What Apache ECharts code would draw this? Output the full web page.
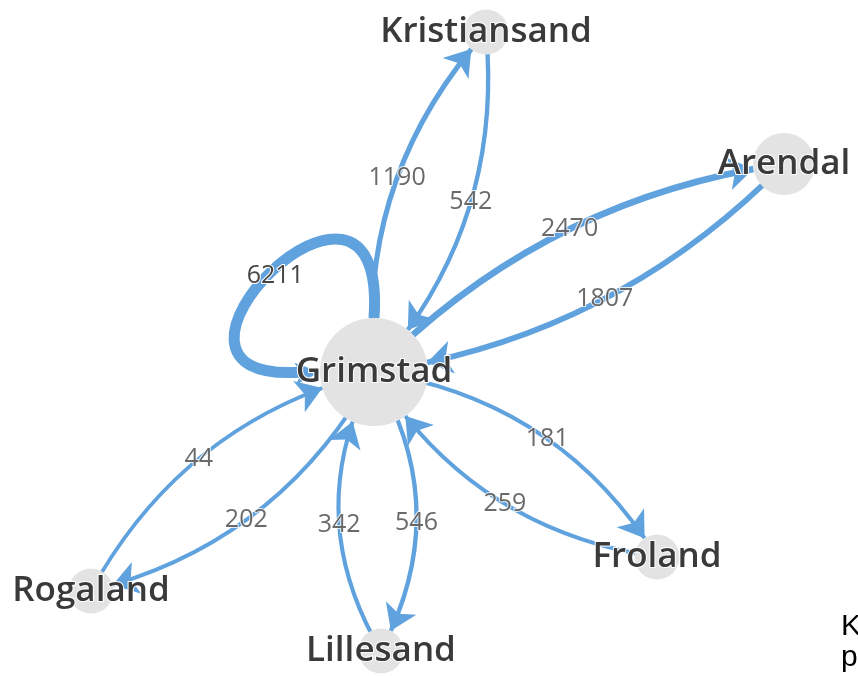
<!DOCTYPE html>
<html>
<head>
<meta charset="utf-8">
<script src="https://cdn.jsdelivr.net/npm/echarts@6/dist/echarts.min.js"></script>
<style>
  html, body { margin: 0; padding: 0; background: #fff; }
  #chart { width: 858px; height: 676px; }
</style>
</head>
<body>
<div id="chart"></div>
<script>
// nodes
var nodeNames = ['Grimstad', 'Kristiansand', 'Arendal', 'Froland', 'Lillesand', 'Rogaland'];
var nodeX = [374, 486, 784, 657, 381, 91];
var nodeY = [372, 32, 164, 557, 651, 591];
var nodeSize = [108, 45, 62, 45, 45, 45];

// links
var linkSource = ['Grimstad', 'Kristiansand', 'Grimstad', 'Arendal', 'Grimstad', 'Grimstad', 'Froland', 'Grimstad', 'Lillesand', 'Rogaland', 'Grimstad'];
var linkTarget = ['Kristiansand', 'Grimstad', 'Arendal', 'Grimstad', 'Grimstad', 'Froland', 'Grimstad', 'Lillesand', 'Grimstad', 'Grimstad', 'Rogaland'];
var linkValue = [1190, 542, 2470, 1807, 6211, 181, 259, 546, 342, 44, 202];

var BOW = 39;           // how far a curved edge bows out at its middle (px)
var EDGE_COLOR = '#5fa2dd';

function edgeWidth(v) { return 3.7 + v / 850; }

var nodes = [];
for (var i = 0; i < nodeNames.length; i++) {
  nodes.push({
    name: nodeNames[i],
    value: [nodeX[i], nodeY[i]],
    symbolSize: nodeSize[i]
  });
}

var links = [];
var edgeLabels = [];
var loops = [];
for (var j = 0; j < linkValue.length; j++) {
  var a = nodeNames.indexOf(linkSource[j]);
  var b = nodeNames.indexOf(linkTarget[j]);
  if (a === b) {
    // self loop, drawn by the custom series
    loops.push([nodeX[a], nodeY[a], nodeSize[a], linkValue[j]]);
    continue;
  }
  var x1 = nodeX[a], y1 = nodeY[a], x2 = nodeX[b], y2 = nodeY[b];
  var len = Math.sqrt((x2 - x1) * (x2 - x1) + (y2 - y1) * (y2 - y1));
  var curve = 2 * BOW / len;
  links.push({
    source: linkSource[j],
    target: linkTarget[j],
    value: linkValue[j],
    lineStyle: { width: edgeWidth(linkValue[j]), curveness: curve }
  });
  // label in the middle of the visible part of the same quadratic curve
  var cx = (x1 + x2) / 2 - (y1 - y2) * curve;
  var cy = (y1 + y2) / 2 - (x2 - x1) * curve;
  var t = 0.5 + (nodeSize[a] - nodeSize[b]) / 5 / len;
  var u = 1 - t;
  edgeLabels.push([
    u * u * x1 + 2 * t * u * cx + t * t * x2,
    u * u * y1 + 2 * t * u * cy + t * t * y2,
    linkValue[j]
  ]);
}

var edgeLabelStyle = {
  fontSize: 25,
  fontFamily: 'Open Sans',
  color: '#454545',
  textBorderColor: '#fff',
  textBorderWidth: 2
};

function renderLoop(params, api) {
  var c = api.coord([api.value(0), api.value(1)]);
  var r = api.value(2) / 2;
  var w = edgeWidth(api.value(3));
  var k = 265, s = 15, arrowLen = 25, arrowHalf = 11;
  var p0 = [c[0], c[1] - r];
  var p1 = [c[0] + s, c[1] - k];
  var p2 = [c[0] - k, c[1] + s];
  var tip = [c[0] - r, c[1]];
  var p3 = [tip[0] - arrowLen * 0.7, tip[1]];
  var dx = tip[0] - p2[0], dy = tip[1] - p2[1];
  var len = Math.sqrt(dx * dx + dy * dy);
  var ux = dx / len, uy = dy / len;
  var bx = tip[0] - ux * arrowLen, by = tip[1] - uy * arrowLen;
  var nx = bx + ux * arrowLen * 0.25, ny = by + uy * arrowLen * 0.25;
  var mid = [
    0.125 * p0[0] + 0.375 * p1[0] + 0.375 * p2[0] + 0.125 * p3[0],
    0.125 * p0[1] + 0.375 * p1[1] + 0.375 * p2[1] + 0.125 * p3[1]
  ];
  return {
    type: 'group',
    children: [{
      type: 'bezierCurve',
      shape: { x1: p0[0], y1: p0[1], cpx1: p1[0], cpy1: p1[1], cpx2: p2[0], cpy2: p2[1], x2: p3[0], y2: p3[1] },
      style: { stroke: EDGE_COLOR, lineWidth: w, fill: null }
    }, {
      type: 'polygon',
      shape: { points: [tip, [bx - uy * arrowHalf, by + ux * arrowHalf], [nx, ny], [bx + uy * arrowHalf, by - ux * arrowHalf]] },
      style: { fill: EDGE_COLOR }
    }, {
      type: 'text',
      x: mid[0] + 4,
      y: mid[1] + 4,
      style: {
        text: String(api.value(3)),
        fontSize: edgeLabelStyle.fontSize,
        fontFamily: edgeLabelStyle.fontFamily,
        fill: edgeLabelStyle.color,
        stroke: '#fff',
        lineWidth: edgeLabelStyle.textBorderWidth,
        align: 'center',
        verticalAlign: 'middle'
      }
    }]
  };
}

var myChart = echarts.init(document.getElementById('chart'));
var option = {
  animation: false,
  grid: { left: 0, right: 0, top: 0, bottom: 0 },
  xAxis: { type: 'value', min: 0, max: 858, show: false },
  yAxis: { type: 'value', min: 0, max: 676, inverse: true, show: false },
  graphic: [
    { type: 'text', left: 841, top: 612, style: { text: 'K', fontSize: 30, fill: '#000', fontFamily: 'Liberation Sans' } },
    { type: 'text', left: 841, top: 643, style: { text: 'p', fontSize: 30, fill: '#000', fontFamily: 'Liberation Sans' } }
  ],
  series: [{
    type: 'custom',
    coordinateSystem: 'cartesian2d',
    clip: false,
    data: loops,
    renderItem: renderLoop
  }, {
    type: 'graph',
    layout: 'none',
    coordinateSystem: 'cartesian2d',
    data: nodes,
    links: links,
    itemStyle: { color: '#e3e3e3' },
    label: {
      show: true,
      position: 'inside',
      fontSize: 35,
      fontWeight: 600,
      fontFamily: 'Open Sans',
      color: '#3a3a3a',
      textBorderColor: '#fff',
      textBorderWidth: 2
    },
    edgeSymbol: ['none', 'arrow'],
    edgeSymbolSize: [4, 25],
    edgeLabel: { show: false },
    lineStyle: { color: EDGE_COLOR, opacity: 1 }
  }, {
    type: 'scatter',
    coordinateSystem: 'cartesian2d',
    data: edgeLabels,
    symbolSize: 1,
    itemStyle: { color: 'transparent' },
    silent: true,
    label: Object.assign({
      show: true,
      position: 'inside',
      formatter: function (p) { return p.value[2]; }
    }, edgeLabelStyle)
  }]
};
myChart.setOption(option);
</script>
</body>
</html>
